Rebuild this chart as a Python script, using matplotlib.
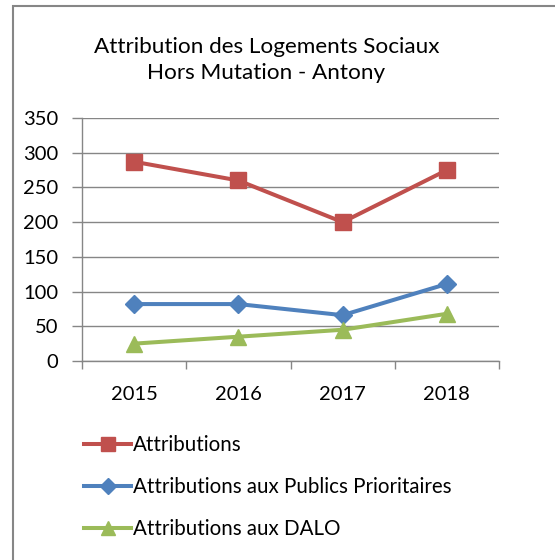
import matplotlib.pyplot as plt
from matplotlib.patches import Rectangle

# données
annees = ["2015", "2016", "2017", "2018"]
attributions = [287, 260, 200, 275]
publics_prioritaires = [82, 82, 66, 111]
dalo = [25, 35, 45, 68]

plt.rcParams['font.family'] = ['Lato', 'DejaVu Sans']

fig = plt.figure(figsize=(5.55, 5.6), dpi=100)
ax = fig.add_axes([82 / 555, 1 - 361 / 560, (499 - 82) / 555, (361 - 118) / 560])

x = list(range(len(annees)))
ax.plot(x, attributions, color="#C0504D", lw=2.9, marker="s", ms=12, label="Attributions")
ax.plot(x, publics_prioritaires, color="#4F81BD", lw=2.9, marker="D", ms=9.5,
        label="Attributions aux Publics Prioritaires")
ax.plot(x, dalo, color="#9BBB59", lw=2.9, marker="^", ms=12, label="Attributions aux DALO")

ax.set_xlim(-0.5, 3.5)
ax.set_ylim(0, 350)
ax.set_yticks(range(0, 351, 50))
ax.set_xticks(x)
ax.set_xticklabels(annees)
ax.set_xticks([i - 0.5 for i in range(len(annees) + 1)], minor=True)
ax.tick_params(axis="x", which="major", length=0, pad=18, labelsize=14.5)
ax.tick_params(axis="x", which="minor", length=6, color="#868686", width=1)
ax.tick_params(axis="y", length=7, color="#868686", width=1, pad=10, labelsize=14.5)
ax.grid(axis="y", color="#868686", lw=1)
ax.set_axisbelow(True)
for s in ["top", "right"]:
    ax.spines[s].set_visible(False)
for s in ["left", "bottom"]:
    ax.spines[s].set_color("#868686")
    ax.spines[s].set_linewidth(1)

fig.text(0.48, 1 - 60 / 560, "Attribution des Logements Sociaux\nHors Mutation - Antony",
         ha="center", va="center", fontsize=16.2, linespacing=1.35)

fig.legend(loc="upper left", bbox_to_anchor=(84 / 555, 1 - 435 / 560), frameon=False,
           fontsize=14.8, handlelength=2.3, handletextpad=0.1, labelspacing=1.08,
           borderpad=0, borderaxespad=0, markerscale=0.85)

fig.patches.append(Rectangle((13 / 555, -0.1), 1.2, 1.1 - 6 / 560, transform=fig.transFigure,
                             fill=False, edgecolor="#868686", lw=1.5))

fig.savefig("out.png", dpi=100)
